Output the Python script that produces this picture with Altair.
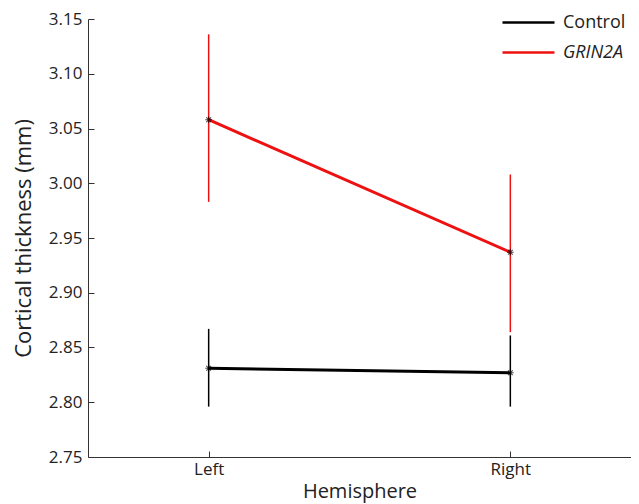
import altair as alt
import pandas as pd

hemispheres = ["Left", "Right"]
groups = ["Control", "GRIN2A"]
control_mean = [2.831, 2.827]
control_lo = [2.796, 2.796]
control_hi = [2.867, 2.861]
grin_mean = [3.058, 2.937]
grin_lo = [2.983, 2.864]
grin_hi = [3.136, 3.008]

rows = []
for g, m, lo, hi in [("Control", control_mean, control_lo, control_hi),
                     ("GRIN2A", grin_mean, grin_lo, grin_hi)]:
    for h, mv, lv, hv in zip(hemispheres, m, lo, hi):
        rows.append({"group": g, "hemisphere": h, "mean": mv, "lo": lv, "hi": hv})
df = pd.DataFrame(rows)

FONT = "Open Sans"
colors = ["#000000", "#ee1111"]

x = alt.X("hemisphere:N", sort=hemispheres,
          scale=alt.Scale(type="point", padding=0.4),
          axis=alt.Axis(title="Hemisphere", labelAngle=0, tickSize=alt.ExprRef("-6"),
                        labelPadding=10, titlePadding=4, grid=False, titleFontSize=20,
                        domainColor="#333", tickColor="#333"))
yscale = alt.Scale(domain=[2.75, 3.15], nice=False, zero=False)
legend = alt.Legend(title=None, orient="none", legendX=413, legendY=-11,
                    symbolType="M-1,0L3,0", symbolStrokeWidth=2.5,
                    symbolSize=676, labelFontSize=18, labelFont=FONT,
                    labelColor="#222", rowPadding=6, labelOffset=33,
                    labelFontStyle=alt.ExprRef("datum.label == 'GRIN2A' ? 'italic' : 'normal'"))
color = alt.Color("group:N", sort=groups,
                  scale=alt.Scale(domain=groups, range=colors),
                  legend=legend)

base = alt.Chart(df)

errs = base.mark_rule(strokeWidth=1.5).encode(
    x=x,
    y=alt.Y("lo:Q", scale=yscale),
    y2="hi:Q",
    color=color,
)

lines = base.mark_line(strokeWidth=3).encode(
    x=x,
    y=alt.Y("mean:Q", scale=yscale,
            axis=alt.Axis(title="Cortical thickness (mm)", format=".2f",
                          values=[2.75, 2.8, 2.85, 2.9, 2.95, 3.0, 3.05, 3.1, 3.15],
                          tickSize=alt.ExprRef("-6"), labelPadding=12, titlePadding=13,
                          titleFontSize=22,
                          grid=False, domainColor="#333", tickColor="#333")),
    color=color,
    detail="group:N",
)

star = "M-1,0L1,0M0,-1L0,1M-0.7,-0.7L0.7,0.7M-0.7,0.7L0.7,-0.7"
points = base.mark_point(shape=star, size=45, color="black", strokeWidth=1.1, filled=False).encode(
    x=x,
    y=alt.Y("mean:Q", scale=yscale),
)

chart = alt.layer(errs, lines, points).properties(
    width=543, height=438, background="white",
    padding={"left": 4, "top": 0, "right": 0, "bottom": 4}
).configure_view(stroke=None).configure_axis(
    labelFont=FONT, titleFont=FONT, labelFontSize=17,
    labelColor="#222", titleColor="#222", titleFontWeight="normal"
)

chart.save("out.html", embed_options={"renderer": "svg", "actions": False})
